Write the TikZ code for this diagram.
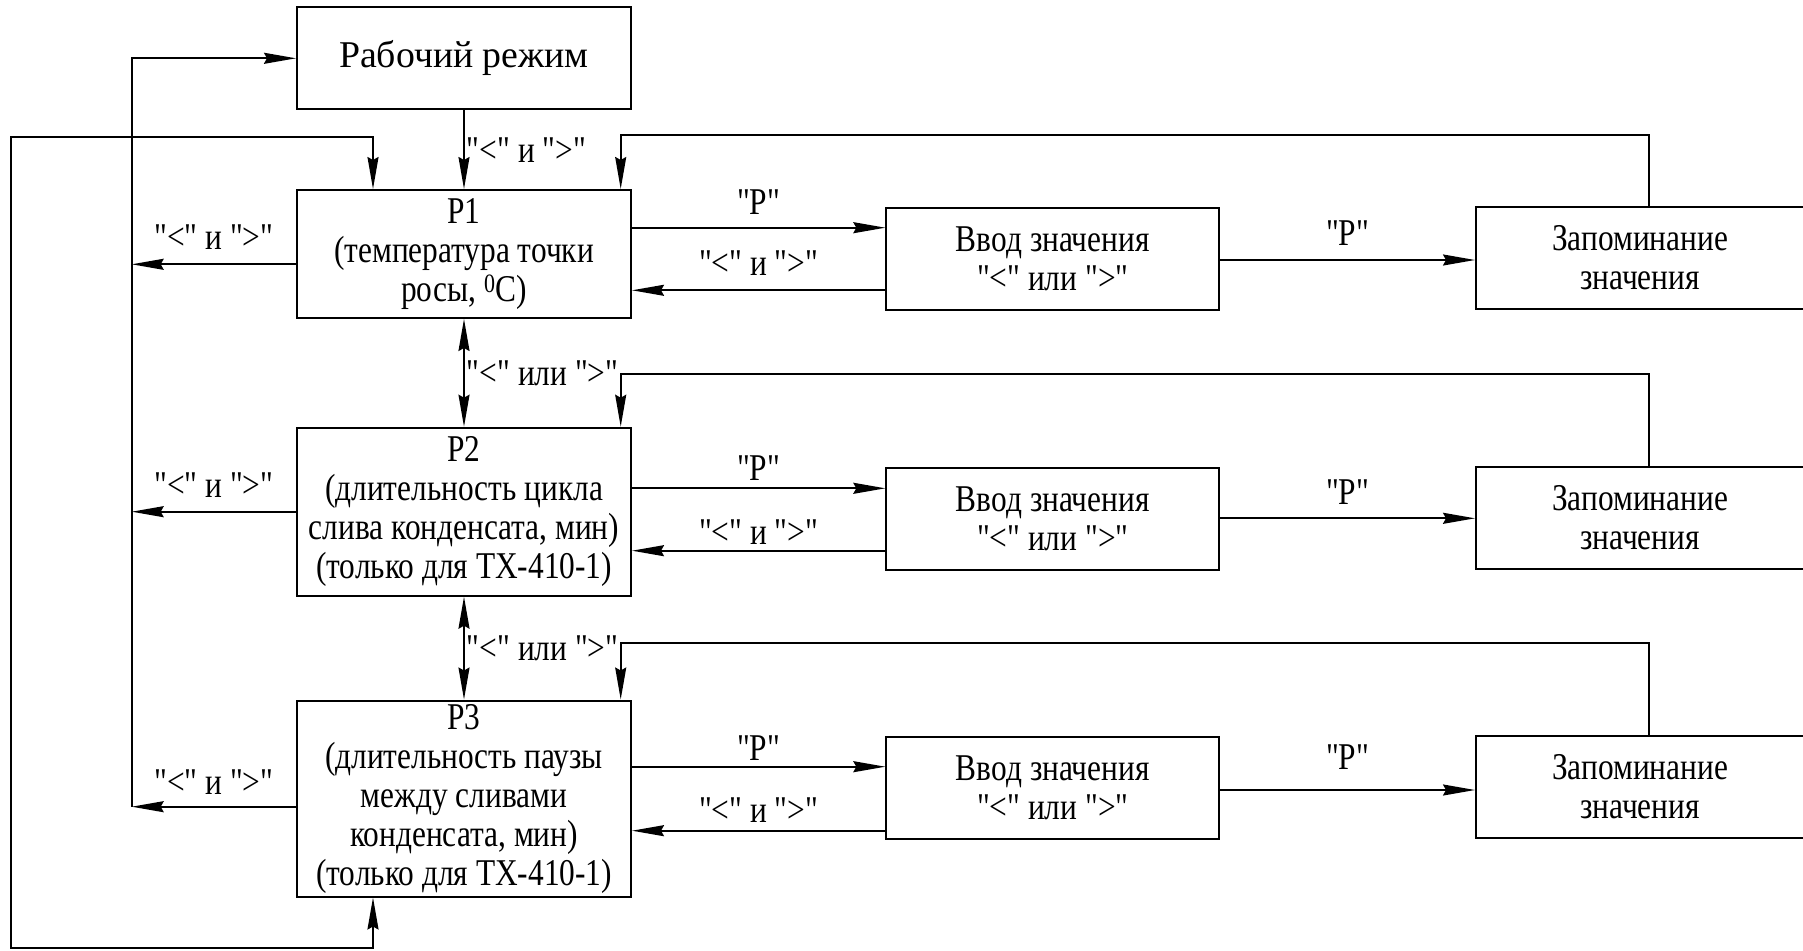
\documentclass[tikz,border=0pt]{standalone}
\usepackage{fontspec}
\setmainfont[FakeStretch=0.83, Ligatures=TeXOff]{Liberation Serif}
\newfontfamily\rabfont[Ligatures=TeXOff]{Liberation Serif}
\usetikzlibrary{arrows.meta}
\tikzset{
    block/.style={draw, line width=2pt, inner sep=0pt, align=center, minimum width=334pt, font=\fontsize{37.8}{39}\selectfont},
    memblock/.style={block, minimum width=328pt, minimum height=102pt},
    arr/.style={line width=1.8pt, -{Stealth[length=32pt,width=11pt,inset=3pt]}},
    arrs/.style={line width=1.8pt, {Stealth[length=32pt,width=11pt,inset=3pt]}-{Stealth[length=32pt,width=11pt,inset=3pt]}},
    lbl/.style={font=\fontsize{37.8}{39}\selectfont, inner sep=0pt}
}
\begin{document}
\begin{tikzpicture}[x=1pt, y=-1pt]
        \useasboundingbox (0,0) rectangle (1803,950);
        \node[block, minimum height=102pt] (rab) at (464,58.3) {\rabfont Рабочий режим};
        \node[block, minimum height=128pt] (p1) at (464,254) {Р1\\(температура точки\\росы, \textsuperscript{0}С)};
        \node[block, minimum height=168pt] (p2) at (464,511.7) {Р2\\(длительность цикла\\слива конденсата, мин)\\(только для ТХ-410-1)};
        \node[block, minimum height=196pt] (p3) at (464,798.5) {Р3\\(длительность паузы\\между сливами\\конденсата, мин)\\(только для ТХ-410-1)};
        \node[block, minimum width=333pt, minimum height=102pt] (vvod1) at (1052.8,259.2) {Ввод значения\\"<" или ">"};
        \node[block, minimum width=333pt, minimum height=102pt] (vvod2) at (1052.8,518.8) {Ввод значения\\"<" или ">"};
        \node[block, minimum width=333pt, minimum height=102pt] (vvod3) at (1052.8,788) {Ввод значения\\"<" или ">"};
        \node[memblock] (zap1) at (1640,257.5) {Запоминание\\значения};
        \node[memblock] (zap2) at (1640,517.5) {Запоминание\\значения};
        \node[memblock] (zap3) at (1640,786.5) {Запоминание\\значения};
        \coordinate (bus) at (131.7,806.7);

        \draw[arr] (rab) -- (p1) node[lbl, midway, right=2pt] {"<" и ">"};
        \draw[arrs] (p1) -- (p2) node[lbl, midway, right=2pt] {"<" или ">"};
        \draw[arrs] (p2) -- (p3) node[lbl, midway, right=2pt] {"<" или ">"};

        \draw[arr] (bus) |- (rab.west);
        \draw[arr] (p1.west |- 0,264.3) -- (bus |- 0,264.3) node[lbl, midway, above=14pt] {"<" и ">"};
        \draw[arr] (p2.west |- 0,511.7) -- (bus |- 0,511.7) node[lbl, midway, above=13.4pt] {"<" и ">"};
        \draw[arr] (p3.west |- bus) -- (bus) node[lbl, midway, above=11.7pt] {"<" и ">"};
        \draw[arrs] (p1.north -| 373,0) |- (10.7,136.7) |- (373,948) -- (p3.south -| 373,0);

        \draw[arr] (p1.east |- 0,227.7) -- (vvod1.west |- 0,227.7) node[lbl, midway, above=12.7pt] {"Р"};
        \draw[arr] (vvod1.west |- 0,290.3) -- (p1.east |- 0,290.3) node[lbl, midway, above=13.6pt] {"<" и ">"};
        \draw[arr] (vvod1.east |- 0,260) -- (zap1.west |- 0,260) node[lbl, midway, above=13.3pt] {"Р"};
        \draw[arr] (zap1.north -| 1649,0) |- (620.7,135) -- (p1.north -| 620.7,0);

        \draw[arr] (p2.east |- 0,488.3) -- (vvod2.west |- 0,488.3) node[lbl, midway, above=6.6pt] {"Р"};
        \draw[arr] (vvod2.west |- 0,550.7) -- (p2.east |- 0,550.7) node[lbl, midway, above=5.7pt] {"<" и ">"};
        \draw[arr] (vvod2.east |- 0,518.3) -- (zap2.west |- 0,518.3) node[lbl, midway, above=13pt] {"Р"};
        \draw[arr] (zap2.north -| 1649,0) |- (620.7,374) -- (p2.north -| 620.7,0);

        \draw[arr] (p3.east |- 0,766.7) -- (vvod3.west |- 0,766.7) node[lbl, midway, above=5pt] {"Р"};
        \draw[arr] (vvod3.west |- 0,830.7) -- (p3.east |- 0,830.7) node[lbl, midway, above=7.4pt] {"<" и ">"};
        \draw[arr] (vvod3.east |- 0,790) -- (zap3.west |- 0,790) node[lbl, midway, above=20pt] {"Р"};
        \draw[arr] (zap3.north -| 1649,0) |- (620.7,643.3) -- (p3.north -| 620.7,0);
\end{tikzpicture}
\end{document}
